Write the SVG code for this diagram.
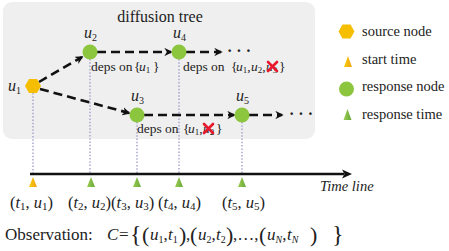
<svg xmlns="http://www.w3.org/2000/svg" width="449" height="251" viewBox="0 0 449 251">
<defs>
<style>
text{font-family:'Liberation Serif','Times New Roman','DejaVu Serif',serif;fill:#222}
.i{font-style:italic}
.dash{stroke:#111;stroke-width:2.6;stroke-dasharray:9,5;fill:none}
.dot{stroke:#9a9ac8;stroke-width:1.3;stroke-dasharray:1.5,1.8;fill:none}
.x{stroke:#e8192c;stroke-width:2.6;stroke-linecap:round}
.dep{font-size:13.5px}
.sb{font-size:9px}
.lg{font-size:14.5px}
.lb{font-size:16.5px}
.ls{font-size:11px}
.ob{font-size:17px}
.os{font-size:10px}
.big{font-size:22px}
.br{font-size:24px}
.dots{font-size:16px;font-weight:bold}
</style>
<marker id="ah" viewBox="0 0 10 10" refX="8" refY="5" markerWidth="3.2" markerHeight="3.2" orient="auto" markerUnits="strokeWidth">
<path d="M0,0 L10,5 L0,10 L3,5 Z" fill="#111"/>
</marker>
<linearGradient id="ys" x1="0" y1="0" x2="1" y2="0"><stop offset="0" stop-color="#f7d000"/><stop offset="1" stop-color="#f0a020"/></linearGradient>
<linearGradient id="gs" x1="0" y1="0" x2="1" y2="0"><stop offset="0" stop-color="#9acd50"/><stop offset="1" stop-color="#6aa83a"/></linearGradient>
</defs>
<rect x="3" y="2" width="312" height="137" rx="9" fill="#efefef"/>
<text x="160" y="22" font-size="16" text-anchor="middle">diffusion tree</text>

<g id="dotted-lines">
<line class="dot" x1="33" y1="93" x2="33" y2="174"/>
<line class="dot" x1="90" y1="59" x2="90" y2="174"/>
<line class="dot" x1="137" y1="122" x2="137" y2="174"/>
<line class="dot" x1="179" y1="59" x2="179" y2="174"/>
<line class="dot" x1="242" y1="122" x2="242" y2="174"/>
</g>

<g id="connectors">
<line class="dash" x1="39" y1="82" x2="82" y2="57" marker-end="url(#ah)"/>
<line class="dash" x1="40" y1="89" x2="129" y2="113" marker-end="url(#ah)"/>
<line class="dash" x1="97" y1="52" x2="171" y2="52" marker-end="url(#ah)"/>
<line class="dash" x1="186" y1="52" x2="221" y2="52" marker-end="url(#ah)"/>
<line class="dash" x1="144" y1="115" x2="234" y2="115" marker-end="url(#ah)"/>
<line class="dash" x1="249" y1="115" x2="282" y2="115" marker-end="url(#ah)"/>
</g>
<text class="dots" x="227" y="56">· · ·</text>
<text class="dots" x="289" y="119">· · ·</text>

<g id="u1">
<polygon points="41,86 37,93 29,93 25,86 29,79 37,79" fill="#f5be00"/>
<text class="i" x="8" y="91" font-size="16">u<tspan font-style="normal" font-size="10" dy="3">1</tspan></text>
</g>
<g id="u2">
<circle cx="90" cy="52" r="7.5" fill="#8cc63f"/>
<text class="i" x="84" y="38" font-size="16">u<tspan font-style="normal" font-size="10" dy="3">2</tspan></text>
<text class="dep" y="71"><tspan x="91">deps on</tspan><tspan x="134">{</tspan><tspan class="i" x="139">u</tspan><tspan class="sb" dy="2">1</tspan><tspan x="153" dy="-2">}</tspan></text>
</g>
<g id="u4">
<circle cx="179" cy="52" r="7.5" fill="#8cc63f"/>
<text class="i" x="173" y="38" font-size="16">u<tspan font-style="normal" font-size="10" dy="3">4</tspan></text>
<text class="dep" y="71"><tspan x="183">deps on</tspan><tspan x="231">{</tspan><tspan class="i" x="236">u</tspan><tspan class="sb" dy="2">1</tspan><tspan dy="-2">,</tspan><tspan class="i" x="251">u</tspan><tspan class="sb" dy="2">2</tspan><tspan dy="-2">,</tspan><tspan class="i" x="266">u</tspan><tspan class="sb" dy="2">3</tspan><tspan x="279" dy="-2">}</tspan></text>
<line class="x" x1="268" y1="62" x2="277" y2="71"/>
<line class="x" x1="277" y1="62" x2="268" y2="71"/>
</g>
<g id="u3">
<circle cx="137" cy="115" r="7.5" fill="#8cc63f"/>
<text class="i" x="131" y="101" font-size="16">u<tspan font-style="normal" font-size="10" dy="3">3</tspan></text>
<text class="dep" y="133"><tspan x="137">deps on</tspan><tspan x="183">{</tspan><tspan class="i" x="188">u</tspan><tspan class="sb" dy="2">1</tspan><tspan dy="-2">,</tspan><tspan class="i" x="203">u</tspan><tspan class="sb" dy="2">2</tspan><tspan x="216" dy="-2">}</tspan></text>
<line class="x" x1="204" y1="124" x2="213" y2="133"/>
<line class="x" x1="213" y1="124" x2="204" y2="133"/>
</g>
<g id="u5">
<circle cx="242" cy="115" r="7.5" fill="#8cc63f"/>
<text class="i" x="236" y="101" font-size="16">u<tspan font-style="normal" font-size="10" dy="3">5</tspan></text>
</g>

<g id="legend">
<polygon points="354.5,31.5 350.5,38.5 342.5,38.5 338.5,31.5 342.5,24.5 350.5,24.5" fill="#f5be00"/>
<text class="lg" x="362" y="36">source node</text>
<polygon points="348,56 352,67 344,67" fill="url(#ys)"/>
<text class="lg" x="362" y="64">start time</text>
<circle cx="346.5" cy="89" r="7.5" fill="#8cc63f"/>
<text class="lg" x="362" y="91">response node</text>
<polygon points="347.5,109 351.5,120 343.5,120" fill="url(#gs)"/>
<text class="lg" x="362" y="119">response time</text>
</g>

<g id="timeline">
<line x1="30" y1="174" x2="344" y2="174" stroke="#111" stroke-width="2.5"/>
<path d="M352,174 L342,169.5 L344.5,174 L342,178.5 Z" fill="#111"/>
<text class="i" x="320" y="191" font-size="14.5">Time line</text>
<polygon points="33,177 37,187 29,187" fill="url(#ys)"/>
<polygon points="91,177 95,187 87,187" fill="url(#gs)"/>
<polygon points="137,177 141,187 133,187" fill="url(#gs)"/>
<polygon points="179,177 183,187 175,187" fill="url(#gs)"/>
<polygon points="242,177 246,187 238,187" fill="url(#gs)"/>
<text class="lb" y="208">
<tspan x="10">(<tspan class="i">t</tspan><tspan class="ls" dy="2">1</tspan><tspan dy="-2">, </tspan><tspan class="i">u</tspan><tspan class="ls" dy="2">1</tspan><tspan dy="-2">)</tspan></tspan>
<tspan x="68">(<tspan class="i">t</tspan><tspan class="ls" dy="2">2</tspan><tspan dy="-2">, </tspan><tspan class="i">u</tspan><tspan class="ls" dy="2">2</tspan><tspan dy="-2">)(</tspan><tspan class="i">t</tspan><tspan class="ls" dy="2">3</tspan><tspan dy="-2">, </tspan><tspan class="i">u</tspan><tspan class="ls" dy="2">3</tspan><tspan dy="-2">)</tspan></tspan>
<tspan x="158">(<tspan class="i">t</tspan><tspan class="ls" dy="2">4</tspan><tspan dy="-2">, </tspan><tspan class="i">u</tspan><tspan class="ls" dy="2">4</tspan><tspan dy="-2">)</tspan></tspan>
<tspan x="222">(<tspan class="i">t</tspan><tspan class="ls" dy="2">5</tspan><tspan dy="-2">, </tspan><tspan class="i">u</tspan><tspan class="ls" dy="2">5</tspan><tspan dy="-2">)</tspan></tspan>
</text>
</g>

<g id="observation">
<text class="ob" x="5" y="240">Observation:</text>
<text class="ob" y="240"><tspan class="i" x="107">C</tspan><tspan x="119">=</tspan><tspan class="br" x="130" dy="2">{</tspan><tspan class="big" x="142">(</tspan><tspan class="i" x="150" dy="-2">u</tspan><tspan class="os" dy="3">1</tspan><tspan dy="-3">,</tspan><tspan class="i" x="168">t</tspan><tspan class="os" dy="3">1</tspan><tspan class="big" x="179" dy="-1">)</tspan><tspan x="186" dy="-2">,</tspan><tspan class="big" x="190" dy="2">(</tspan><tspan class="i" x="198" dy="-2">u</tspan><tspan class="os" dy="3">2</tspan><tspan dy="-3">,</tspan><tspan class="i" x="216">t</tspan><tspan class="os" dy="3">2</tspan><tspan class="big" x="226" dy="-1">)</tspan><tspan x="233" dy="-2">,…,</tspan><tspan class="big" x="259" dy="2">(</tspan><tspan class="i" x="267" dy="-2">u</tspan><tspan class="os i" dy="3">N</tspan><tspan dy="-3">,</tspan><tspan class="i" x="287">t</tspan><tspan class="os i" dy="3">N</tspan><tspan class="big" x="310" dy="-1">)</tspan><tspan class="br" x="332">}</tspan></text>
</g>
</svg>
